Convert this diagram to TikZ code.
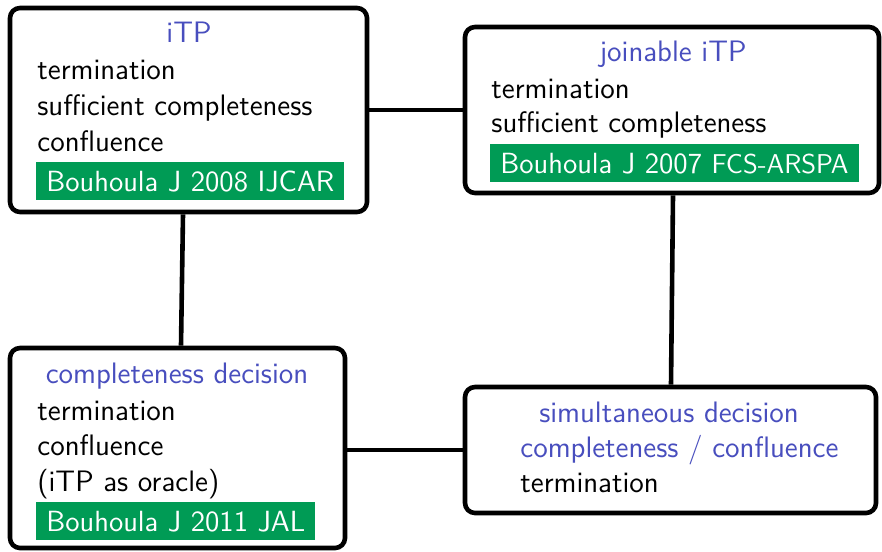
\documentclass[tikz,border=0pt]{standalone}
\usetikzlibrary{positioning}
\definecolor{titleblue}{RGB}{72,78,190}
\definecolor{refgreen}{RGB}{0,155,85}
\begin{document}
\begin{tikzpicture}[x=0.5pt,y=-0.5pt,
  every node/.style={font=\fontsize{14.8}{17}\selectfont\sffamily, inner sep=0pt},
  box/.style={draw=black, line width=2.3pt, rounded corners=5pt, fill=white},
  conn/.style={draw=black, line width=2.3pt},
  heading/.style={anchor=base, text=titleblue},
  item/.style={anchor=base west, text=black},
  ref/.style={anchor=base west, fill=refgreen, text=white, inner xsep=5pt,
              font=\fontsize{14.6}{17}\selectfont\sffamily,
              inner ysep=2.25pt, text height=12.25pt, text depth=2.25pt}]
  \useasboundingbox (0,0) rectangle (882,551);

  % frames
  \node (itp)  [box, minimum width=178.5pt, minimum height=102pt] at (188.5,110) {};
  \node (jitp) [box, minimum width=207pt,   minimum height=83pt]  at (672,110) {};
  \node (cd)   [box, minimum width=167.5pt, minimum height=100pt] at (177.5,448) {};
  \node (sd)   [box, minimum width=205.5pt, minimum height=63pt]  at (670.5,450) {};

  % connections
  \draw[conn] (itp) -- (jitp);
  \draw[conn] ([xshift=-2.75pt]itp.south) -- ([xshift=1.75pt]cd.north);
  \draw[conn] ([xshift=0.5pt]jitp.south) -- ([xshift=0.25pt]sd.north);
  \draw[conn] ([yshift=-1pt]cd.east) -- ([yshift=0pt]sd.west);

  % iTP
  \node (itpT)  [heading] at (189,43) {iTP};
  \node (itp1)  [item] at (37,80)  {termination};
  \node (itp2)  [item] at (37,115) {sufficient completeness};
  \node (itp3)  [item] at (37,151) {confluence};
  \node (itpR)  [ref]  at (36,191) {Bouhoula J 2008 IJCAR};

  % joinable iTP
  \node (jitpT) [heading] at (673,62) {joinable iTP};
  \node (jitp1) [item] at (491,98)  {termination};
  \node (jitp2) [item] at (491,133) {sufficient completeness};
  \node (jitpR) [ref]  at (490,173) {Bouhoula J 2007 {\fontsize{13.6}{16}\selectfont FCS-ARSPA}};

  % completeness decision
  \node (cdT)   [heading] at (177,383) {completeness decision};
  \node (cd1)   [item] at (37,420) {termination};
  \node (cd2)   [item] at (37,455) {confluence};
  \node (cd3)   [item] at (37,491) {(iTP as oracle)};
  \node (cdR)   [ref]  at (36,531) {Bouhoula J 2011 JAL};

  % simultaneous decision
  \node (sdT1)  [heading] at (669,422) {simultaneous decision};
  \node (sdT2)  [item, text=titleblue] at (520,457) {completeness / confluence};
  \node (sd1)   [item] at (520,492) {termination};
\end{tikzpicture}
\end{document}
